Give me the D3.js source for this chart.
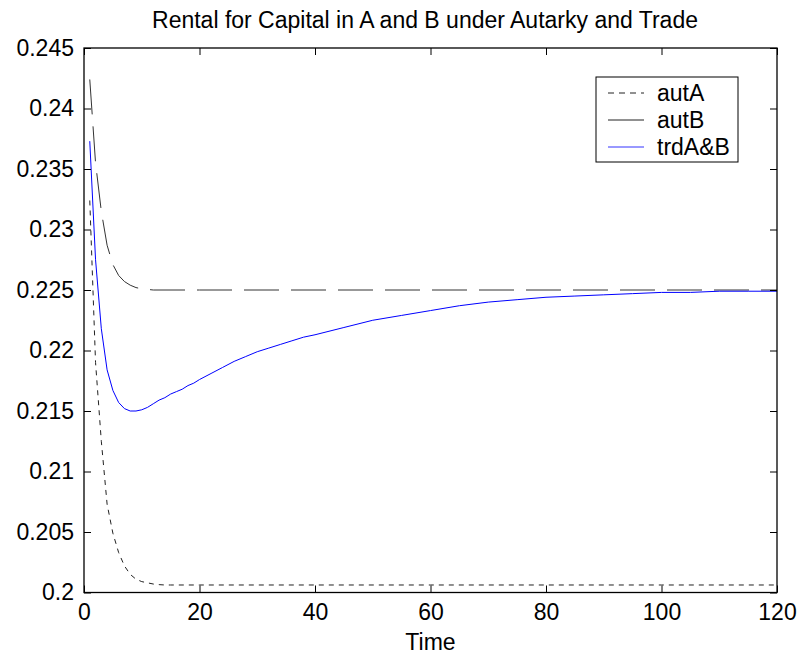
<!DOCTYPE html>
<html><head><meta charset="utf-8">
<script src="https://cdn.jsdelivr.net/npm/d3@7"></script>
<style>
body{margin:0;background:#fff}
text{font-family:"Liberation Sans",Arial,Helvetica,sans-serif;fill:#000}
</style>
</head><body>
<svg id="c" width="802" height="664"></svg>
<script>
// ---- data ----
const title = "Rental for Capital in A and B under Autarky and Trade";
const xLabel = "Time";
const xTicks = [0, 20, 40, 60, 80, 100, 120];
const yTicks = [0.2, 0.205, 0.21, 0.215, 0.22, 0.225, 0.23, 0.235, 0.24, 0.245];
const yTickLabels = ["0.2","0.205","0.21","0.215","0.22","0.225","0.23","0.235","0.24","0.245"];
const seriesNames = ["autA", "autB", "trdA&B"];

const timeA = [1,2,3,4,5,6,7,8,9,10,11,12,13,14,15,20,40,60,80,100,120];
const autA  = [0.2324,0.2190,0.2125,0.2073,0.2049,0.2033,0.2022,0.2015,0.2011,0.2009,0.2008,0.2007,0.20065,0.20062,0.20062,0.20062,0.20062,0.20062,0.20062,0.20062,0.20062];

const timeB = [1,2,3,4,5,6,7,8,9,10,11,12,20,40,60,80,100,120];
const autB  = [0.2424,0.2355,0.2315,0.2287,0.2271,0.2262,0.2257,0.2254,0.2252,0.2251,0.22505,0.2250,0.2250,0.2250,0.2250,0.2250,0.2250,0.2250];

const timeT = [1,2,3,4,5,6,7,8,9,10,11,12,13,14,15,16,17,18,19,20,22,24,26,28,30,32,34,36,38,40,45,50,55,60,65,70,75,80,85,90,95,100,105,110,115,120];
const trd   = [0.2373,0.2275,0.2218,0.2184,0.2167,0.2157,0.2152,0.2150,0.2150,0.2151,0.2153,0.2156,0.2159,0.2161,0.2164,0.2166,0.2168,0.2171,0.2173,0.2176,0.2181,0.2186,0.2191,0.2195,0.2199,0.2202,0.2205,0.2208,0.2211,0.2213,0.2219,0.2225,0.2229,0.2233,0.2237,0.2240,0.2242,0.2244,0.2245,0.2246,0.2247,0.2248,0.2248,0.2249,0.2249,0.2249];

// ---- layout ----
const L = 84, R = 777, T = 48, B = 592.5;
const svg = d3.select("#c");
const x = d3.scaleLinear().domain([0, 120]).range([L, R]);
const y = d3.scaleLinear().domain([0.2, 0.245]).range([B, T]);

const styles = [
  {color:"#222", dash:"5,5", width:1},
  {color:"#333", dash:"35,12", width:1},
  {color:"#0000ff", dash:null, width:1}
];

const line = d3.line().x(d => x(d[0])).y(d => y(d[1]));
const data = [
  d3.zip(timeA, autA),
  d3.zip(timeB, autB),
  d3.zip(timeT, trd)
];

const plot = svg.append("g");
plot.append("defs").append("clipPath").attr("id","clip")
  .append("rect").attr("x",L).attr("y",T).attr("width",R-L).attr("height",B-T);

data.forEach((d,i) => {
  plot.append("path").datum(d)
    .attr("d", line)
    .attr("fill","none")
    .attr("stroke", styles[i].color)
    .attr("stroke-width", styles[i].width)
    .attr("stroke-dasharray", styles[i].dash)
    .attr("clip-path","url(#clip)");
});

// axes (ticks inward on all sides)
const tickLen = 7;
const axB = d3.axisBottom(x).tickValues(xTicks).tickSizeInner(-tickLen).tickSizeOuter(0).tickPadding(11);
const axT = d3.axisTop(x).tickValues(xTicks).tickSizeInner(-tickLen).tickSizeOuter(0).tickFormat("");
const axL = d3.axisLeft(y).tickValues(yTicks).tickSizeInner(-tickLen).tickSizeOuter(0).tickPadding(10)
  .tickFormat((d,i) => yTickLabels[i]);
const axR = d3.axisRight(y).tickValues(yTicks).tickSizeInner(-tickLen).tickSizeOuter(0).tickFormat("");

function styleAxis(g){
  g.select(".domain").remove();
  g.selectAll(".tick line").attr("stroke","#000").attr("stroke-width",1);
  g.selectAll("text").style("font-size","23px").attr("fill","#000");
}
svg.append("g").attr("transform",`translate(0,${B})`).call(axB).call(styleAxis);
svg.append("g").attr("transform",`translate(0,${T})`).call(axT).call(styleAxis);
svg.append("g").attr("transform",`translate(${L},0)`).call(axL).call(styleAxis);
svg.append("g").attr("transform",`translate(${R},0)`).call(axR).call(styleAxis);

svg.append("rect").attr("x",L).attr("y",T).attr("width",R-L).attr("height",B-T)
  .attr("fill","none").attr("stroke","#000").attr("stroke-width",1.3);

// title & label
svg.append("text").attr("x",425).attr("y",28).attr("text-anchor","middle")
  .style("font-size","23px").text(title);
svg.append("text").attr("x",(L+R)/2).attr("y",650).attr("text-anchor","middle")
  .style("font-size","23px").text(xLabel);

// legend
const lg = svg.append("g");
const lx = 596, ly = 77, lw = 142, lh = 85;
lg.append("rect").attr("x",lx).attr("y",ly).attr("width",lw).attr("height",lh)
  .attr("fill","#fff").attr("stroke","#000").attr("stroke-width",1);
seriesNames.forEach((n,i) => {
  const cy = ly + 16 + i*27;
  lg.append("line").attr("x1",lx+12).attr("x2",lx+48).attr("y1",cy).attr("y2",cy)
    .attr("stroke", i===2 ? "#3333ff" : "#222").attr("stroke-width",1)
    .attr("stroke-dasharray", i===0 ? "6,5" : null);
  lg.append("text").attr("x",lx+61).attr("y",cy).attr("dy","0.35em")
    .style("font-size","23px").text(n);
});
</script>
</body></html>
